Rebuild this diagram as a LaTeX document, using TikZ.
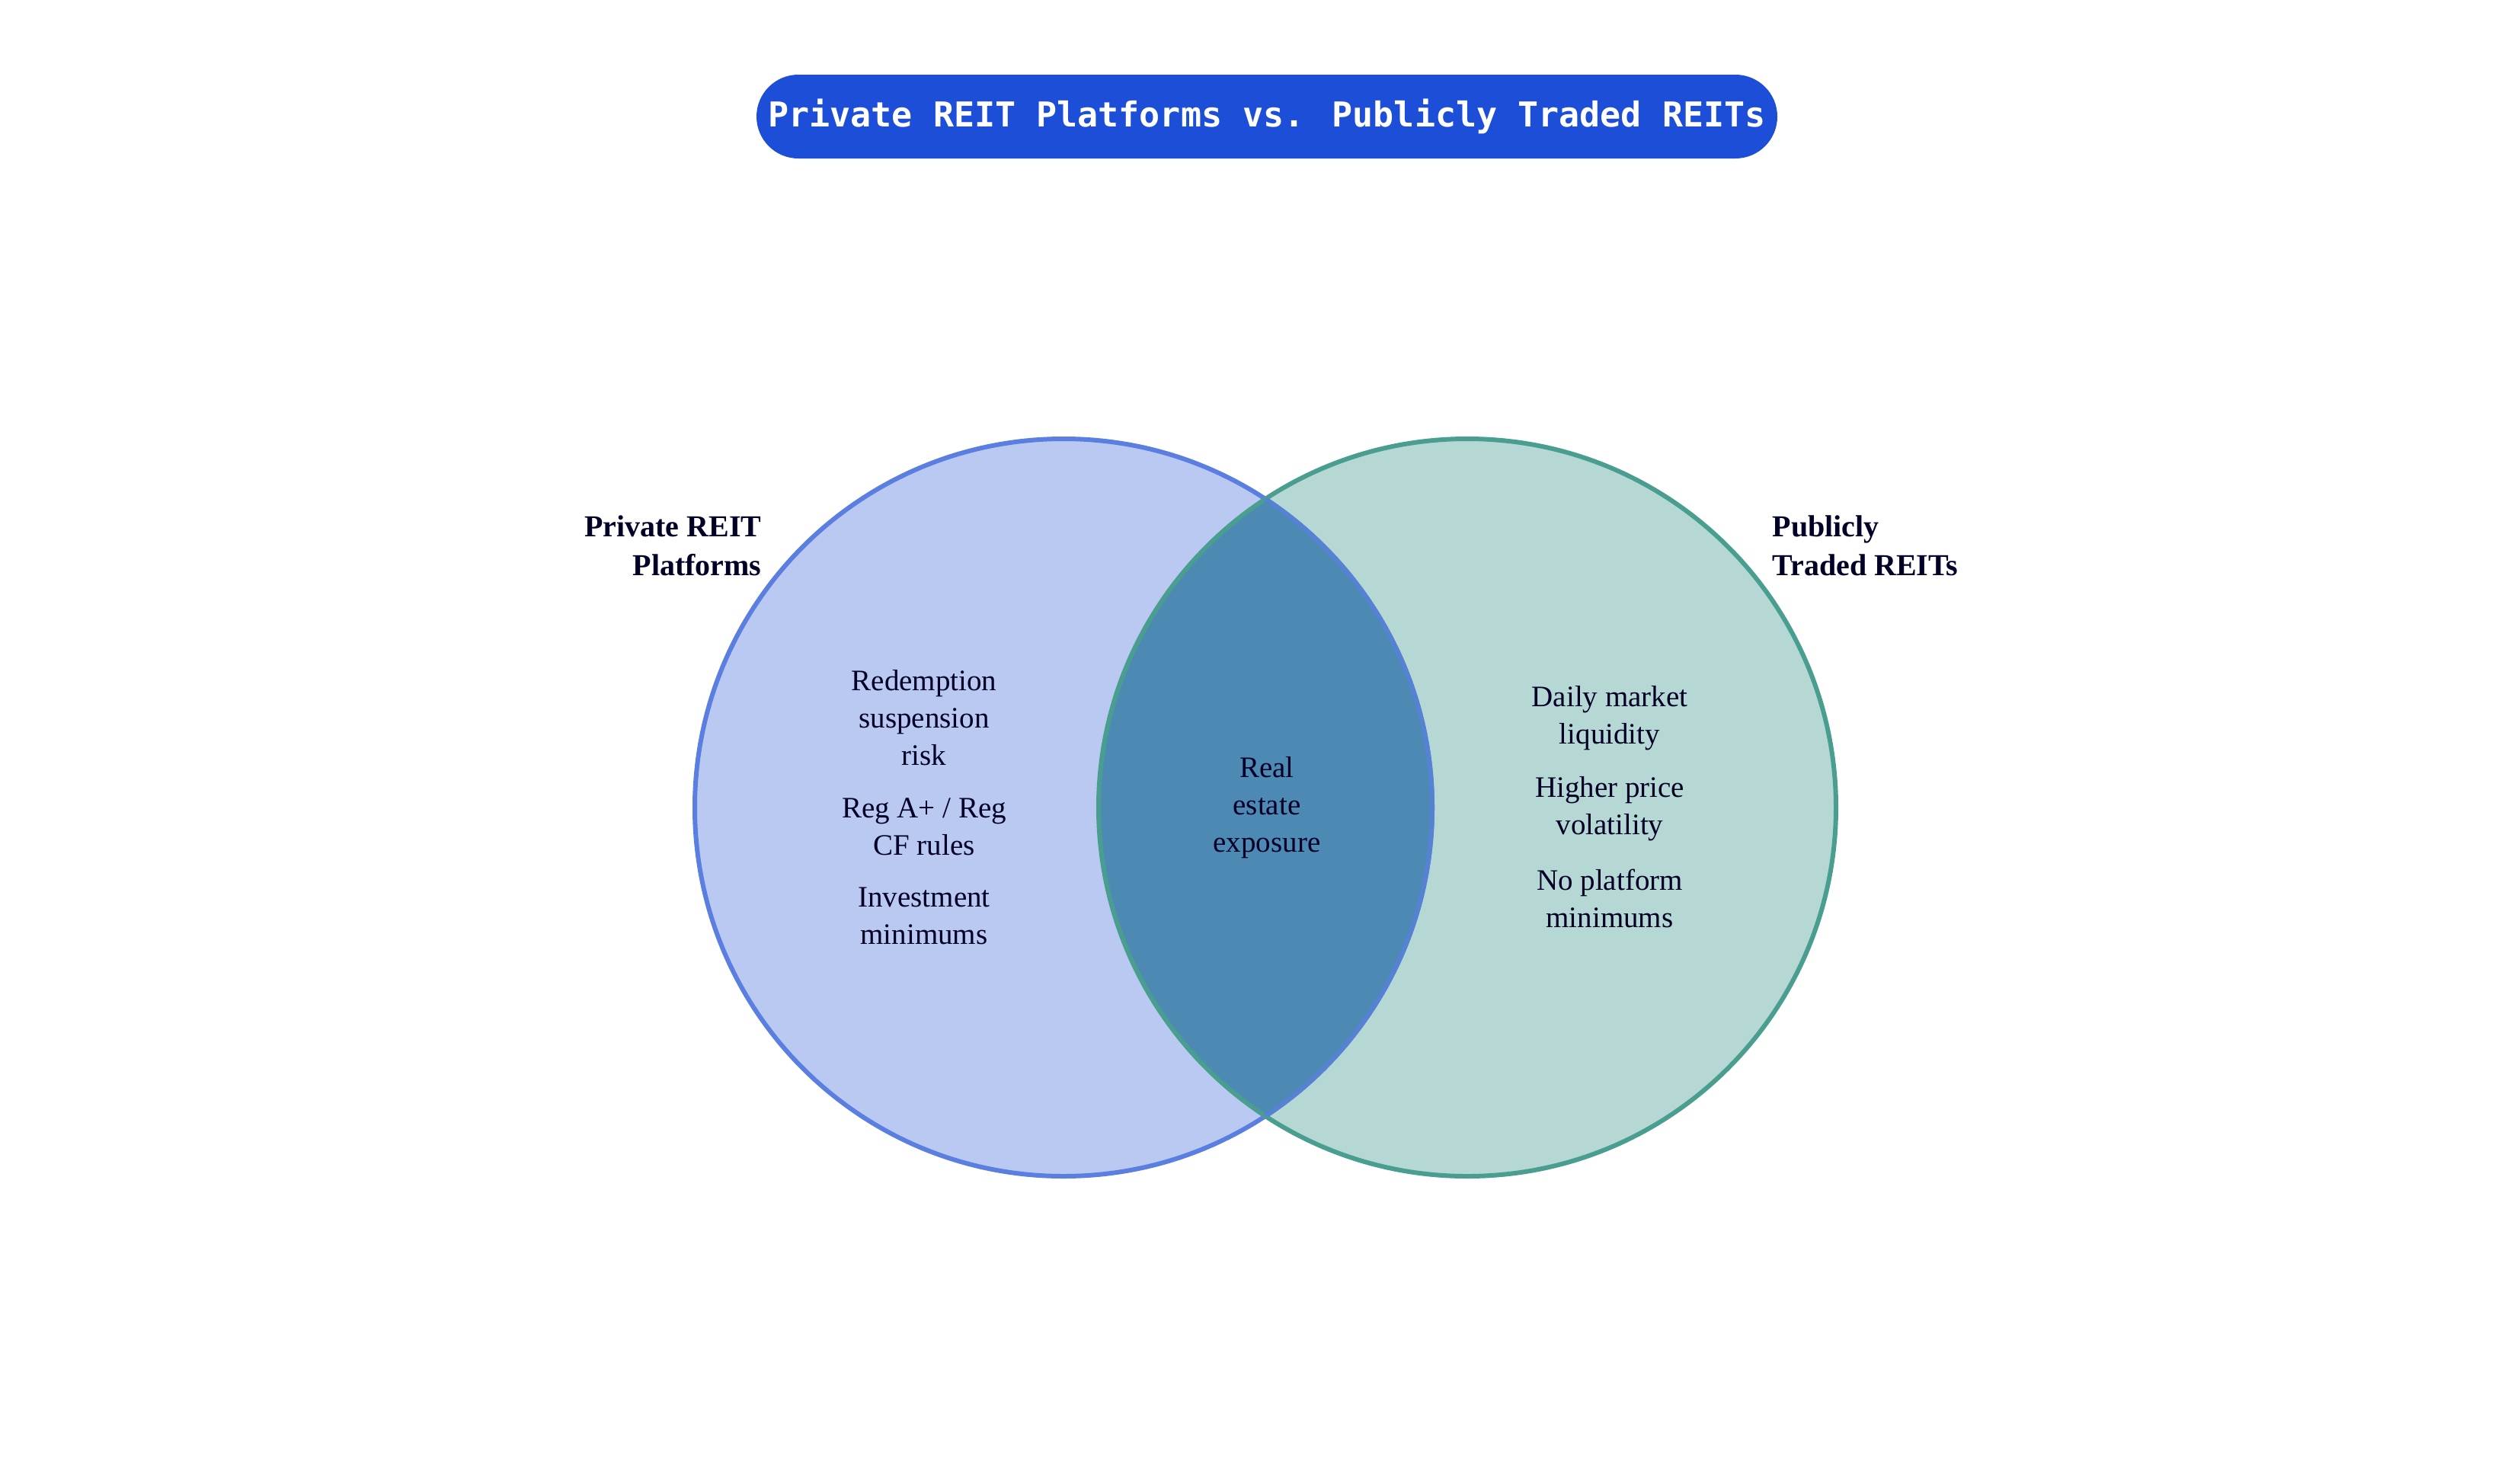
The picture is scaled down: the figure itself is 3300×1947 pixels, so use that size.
\documentclass[tikz,border=0pt]{standalone}
\usepackage{fontspec}
\setmainfont{Liberation Serif}
\newfontfamily\titlefont{DejaVu Sans Mono}
\begin{document}
\begin{tikzpicture}[x=1pt,y=-1pt,
  item/.style={align=center,font=\fontsize{39}{49}\selectfont,text=black!85!blue},
  lab/.style={font=\bfseries\fontsize{40}{51}\selectfont,text=black!85!blue}]
\useasboundingbox (0,0) rectangle (3300,1947);
\definecolor{lf}{HTML}{B9C9F2}\definecolor{ls}{HTML}{5B7FE0}
\definecolor{rf}{HTML}{B6D8D4}\definecolor{rs}{HTML}{4A9E90}
\definecolor{mid}{HTML}{4C8AB4}\definecolor{pill}{HTML}{1D4ED8}
\fill[lf] (1396,1060) circle (484);
\fill[rf] (1926,1060) circle (484);
\begin{scope}\clip (1396,1060) circle (484); \fill[mid] (1926,1060) circle (484);\end{scope}
\draw[ls,line width=6] (1396,1060) circle (484);
\draw[rs,line width=6] (1926,1060) circle (484);
\begin{scope}\clip (1926,1060) circle (484); \draw[ls!70!mid,line width=6] (1396,1060) circle (484);\end{scope}
\node[fill=pill,rounded corners=55,minimum width=1340,minimum height=110,inner sep=0,text=white,font=\titlefont\bfseries\fontsize{45}{50}\selectfont] (title) at (1663,153) {Private REIT Platforms vs. Publicly Traded REITs};
\node[lab,align=right,anchor=east] (lA) at (1003,716) {Private REIT\\Platforms};
\node[lab,align=left,anchor=west] (lB) at (2323,716) {Publicly\\Traded REITs};
\node[item] (a1) at (1213,942) {Redemption\\suspension\\risk};
\node[item] (a2) at (1213,1085) {Reg A+ / Reg\\CF rules};
\node[item] (a3) at (1213,1202) {Investment\\minimums};
\node[item] (c1) at (1663,1060) {Real\\estate\\exposure};
\node[item] (b1) at (2113,943) {Daily market\\liquidity};
\node[item] (b2) at (2113,1062) {Higher price\\volatility};
\node[item] (b3) at (2113,1179) {No platform\\minimums};
\end{tikzpicture}
\end{document}
